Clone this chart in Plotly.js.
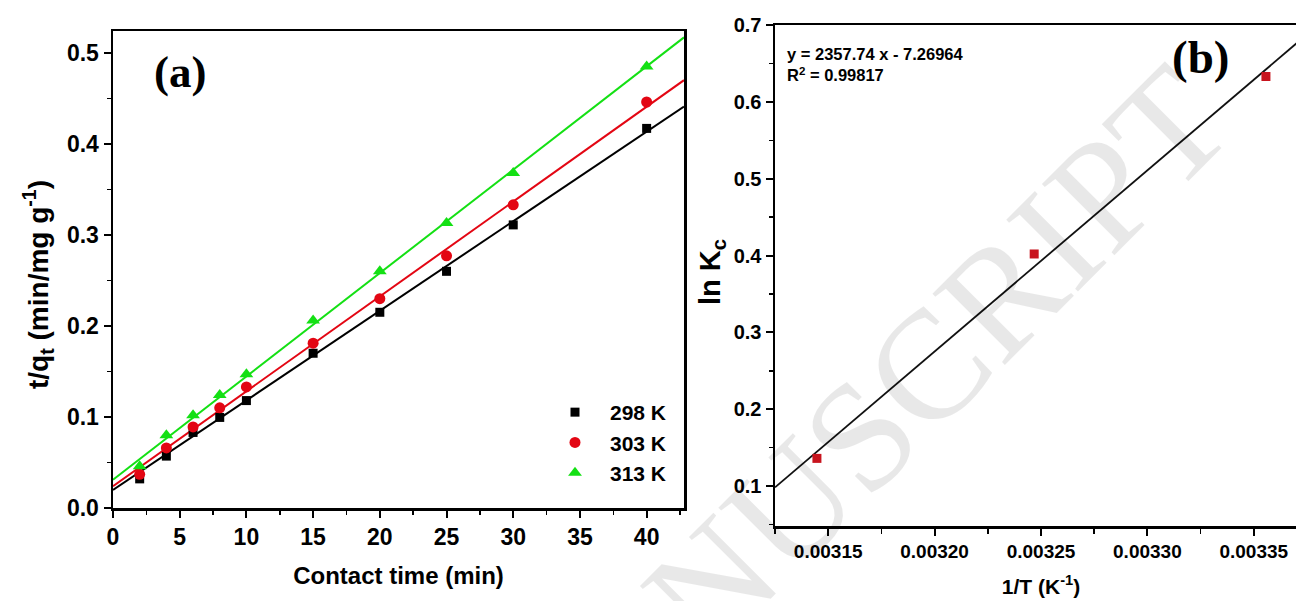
<!DOCTYPE html>
<html>
<head>
<meta charset="utf-8">
<script src="https://cdn.plot.ly/plotly-3.0.1.min.js"></script>
<style>
html,body{margin:0;padding:0;overflow:hidden;background:#fff;}
#chart{width:1310px;height:601px;}
</style>
</head>
<body>
<div id="chart"></div>
<script>
// ---------- Panel (a): pseudo-second-order kinetics ----------
const contactTime = [2, 4, 6, 8, 10, 15, 20, 25, 30, 40];
const tq298 = [0.032, 0.057, 0.083, 0.0995, 0.118, 0.170, 0.215, 0.260, 0.311, 0.417];
const tq303 = [0.037, 0.066, 0.089, 0.110, 0.133, 0.181, 0.230, 0.277, 0.333, 0.446];
const tq313 = [0.046, 0.080, 0.102, 0.124, 0.147, 0.206, 0.260, 0.313, 0.368, 0.485];
const seriesNames = ['298 K', '303 K', '313 K'];
// fitted straight lines (values read at x = 0 and x = 42.8)
const fitX = [0, 42.8];
const fit298 = [0.0198, 0.441];
const fit303 = [0.024, 0.470];
const fit313 = [0.031, 0.517];

// ---------- Panel (b): van't Hoff plot ----------
const invT = [0.0031447, 0.0032468, 0.0033557];
const lnKc = [0.136, 0.402, 0.633];
const vhSlope = 2357.74;
const vhIntercept = -7.26964;
const vhR2 = 0.99817;
const vhXRange = [0.003125, 0.003375];
const vhTicks = [0.00315, 0.00320, 0.00325, 0.00330, 0.00335];

const W = 1310, H = 601;
const px = x => x / W;
const py = y => 1 - y / H;

const cBlack = '#000000', cRed = '#e30613', cGreen = '#14e014', cDark = '#c8141e';
const sans = 'Liberation Sans, Arial, sans-serif';
const serif = 'Liberation Serif, Times New Roman, serif';

const traces = [
  {x: fitX, y: fit298, mode: 'lines', line: {color: cBlack, width: 2}, showlegend: false, hoverinfo: 'skip', xaxis: 'x', yaxis: 'y'},
  {x: fitX, y: fit303, mode: 'lines', line: {color: cRed, width: 2}, showlegend: false, hoverinfo: 'skip', xaxis: 'x', yaxis: 'y'},
  {x: fitX, y: fit313, mode: 'lines', line: {color: cGreen, width: 2}, showlegend: false, hoverinfo: 'skip', xaxis: 'x', yaxis: 'y'},
  {x: contactTime, y: tq298, name: seriesNames[0], mode: 'markers',
   marker: {symbol: 'square', size: 9, color: cBlack}, xaxis: 'x', yaxis: 'y'},
  {x: contactTime, y: tq303, name: seriesNames[1], mode: 'markers',
   marker: {symbol: 'circle', size: 11, color: cRed}, xaxis: 'x', yaxis: 'y'},
  {x: contactTime, y: tq313, name: seriesNames[2], mode: 'markers',
   marker: {symbol: 'triangle-up', size: 12, color: cGreen}, xaxis: 'x', yaxis: 'y'},
  {x: vhXRange, y: vhXRange.map(v => vhSlope * v + vhIntercept), mode: 'lines',
   line: {color: '#111', width: 1.8}, showlegend: false, hoverinfo: 'skip', xaxis: 'x2', yaxis: 'y2'},
  {x: invT, y: lnKc, mode: 'markers', showlegend: false,
   marker: {symbol: 'square', size: 9, color: cDark}, xaxis: 'x2', yaxis: 'y2'}
];

const axCommon = {
  showline: true, linewidth: 2.5, linecolor: '#000', mirror: true,
  showgrid: false, zeroline: false,
  ticks: 'outside', ticklen: 7, tickwidth: 2, tickcolor: '#000',
  tickfont: {family: sans, size: 23, weight: 'bold', color: '#000'}
};

const layout = {
  width: W, height: H,
  margin: {l: 0, r: 0, t: 0, b: 0},
  paper_bgcolor: '#fff', plot_bgcolor: '#fff',
  font: {family: sans, color: '#000'},
  showlegend: true,
  legend: {
    x: px(540), y: py(392), xanchor: 'left', yanchor: 'top',
    bgcolor: 'rgba(0,0,0,0)', borderwidth: 0,
    itemwidth: 60,
    font: {family: sans, size: 21, weight: 'bold', color: '#000'}
  },
  xaxis: Object.assign({}, axCommon, {
    domain: [px(113), px(684)], anchor: 'y', range: [0, 42.8],
    tick0: 0, dtick: 5,
    minor: {dtick: 2.5, ticks: 'outside', ticklen: 4, tickwidth: 1.5, tickcolor: '#000'},
    title: {text: 'Contact time (min)', font: {family: sans, size: 24, weight: 'bold'}, standoff: 18}
  }),
  yaxis: Object.assign({}, axCommon, {
    domain: [py(508), py(31)], anchor: 'x', range: [0, 0.524],
    tick0: 0, dtick: 0.1, tickformat: '.1f',
    minor: {dtick: 0.05, ticks: 'outside', ticklen: 4, tickwidth: 1.5, tickcolor: '#000'}
  }),
  xaxis2: Object.assign({}, axCommon, {
    domain: [px(775), px(1307)], anchor: 'y2', range: vhXRange,
    tickvals: vhTicks, ticktext: vhTicks.map(v => v.toFixed(5)),
    minor: {dtick: 0.000025, tick0: 0.003125, ticks: 'outside', ticklen: 5, tickwidth: 1.5, tickcolor: '#000'},
    tickfont: {family: sans, size: 19, weight: 'bold', color: '#000'},
    title: {text: '1/T (K<sup>-1</sup>)', font: {family: sans, size: 21, weight: 'bold'}, standoff: 18}
  }),
  yaxis2: Object.assign({}, axCommon, {
    domain: [py(526), py(25)], anchor: 'x2', range: [0.048, 0.7],
    tick0: 0.1, dtick: 0.1, tickformat: '.1f',
    tickfont: {family: sans, size: 20, weight: 'bold', color: '#000'},
    minor: {dtick: 0.05, tick0: 0.05, ticks: 'outside', ticklen: 4, tickwidth: 1.5, tickcolor: '#000'}
  }),
  annotations: [
    {text: 'MANUSCRIPT', xref: 'paper', yref: 'paper', x: px(848), y: py(448),
     xanchor: 'center', yanchor: 'middle', showarrow: false, textangle: -45,
     font: {family: serif, size: 155, color: 'rgba(0,0,0,0.09)'}},
    {text: 't/q<sub>t</sub> (min/mg g<sup>-1</sup>)', xref: 'paper', yref: 'paper',
     x: px(38), y: py(285), xanchor: 'center', yanchor: 'middle', showarrow: false, textangle: -90,
     font: {family: sans, size: 28, weight: 'bold', color: '#000'}},
    {text: 'ln K<sub>c</sub>', xref: 'paper', yref: 'paper',
     x: px(712), y: py(272), xanchor: 'center', yanchor: 'middle', showarrow: false, textangle: -90,
     font: {family: sans, size: 29, weight: 'bold', color: '#000'}},
    {text: '(a)', xref: 'paper', yref: 'paper', x: px(180), y: py(72),
     xanchor: 'center', yanchor: 'middle', showarrow: false,
     font: {family: serif, size: 45, weight: 'bold', color: '#000'}},
    {text: '(b)', xref: 'paper', yref: 'paper', x: px(1200), y: py(57),
     xanchor: 'center', yanchor: 'middle', showarrow: false,
     font: {family: serif, size: 47, weight: 'bold', color: '#000'}},
    {text: 'y = ' + vhSlope.toFixed(2) + ' x - ' + Math.abs(vhIntercept).toFixed(5) +
           '<br>R<sup>2</sup> = ' + vhR2.toFixed(5),
     xref: 'paper', yref: 'paper', x: px(785), y: py(43),
     xanchor: 'left', yanchor: 'top', align: 'left', showarrow: false,
     font: {family: sans, size: 16.5, weight: 'bold', color: '#000'}}
  ]
};

Plotly.newPlot('chart', traces, layout, {displayModeBar: false, staticPlot: true});
</script>
</body>
</html>
